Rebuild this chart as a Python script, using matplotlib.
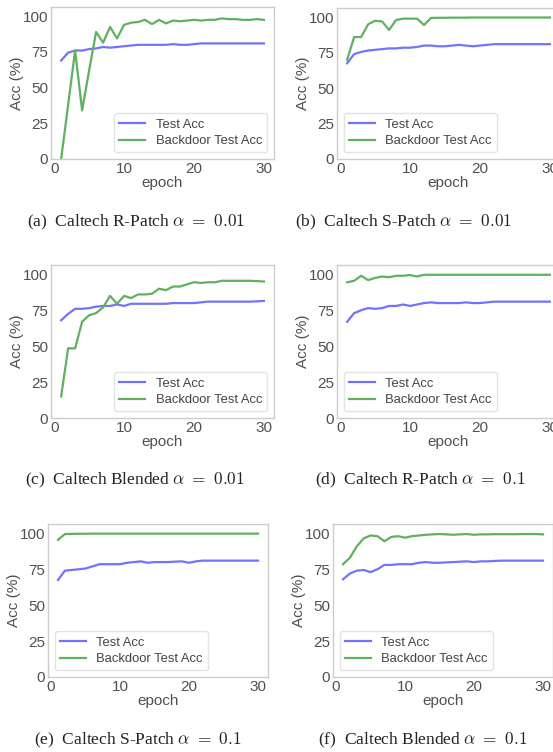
import matplotlib
matplotlib.use("Agg")
import matplotlib.pyplot as plt
import numpy as np

# ---- Data -----------------------------------------------------------------
epochs = np.arange(1, 31)

test_a = [69, 74.5, 76, 76, 77, 77.5, 78.5, 78, 78.5, 79, 79.5, 80, 80, 80, 80,
          80, 80.5, 80, 80, 80.5, 81, 81, 81, 81, 81, 81, 81, 81, 81, 81]
bd_a = [0, 38, 76, 34, 62, 89, 81.5, 92.5, 84.5, 94, 95.5, 96, 97.5, 94.5, 97.5,
        95, 97, 96.5, 97, 97.5, 97, 97.5, 97.5, 98.5, 98, 98, 97.5, 97.5, 98, 97.5]

test_b = [67.5, 74, 75.5, 76.5, 77, 77.5, 78, 78, 78.5, 78.5, 79, 80, 80, 79.5, 79.5,
          80, 80.5, 80, 79.5, 80, 80.5, 81, 81, 81, 81, 81, 81, 81, 81, 81]
bd_b = [70, 86, 86, 95, 97.5, 97, 91, 98, 99, 99, 99, 94.5, 99.5, 99.6, 99.6,
        99.7, 99.7, 99.7, 99.8, 99.8, 99.8, 99.8, 99.8, 99.8, 99.8, 99.8, 99.8, 99.8, 99.8, 99.8]

test_c = [68, 72.5, 76, 76, 76.5, 77.5, 78, 78, 79, 78, 79.5, 79.5, 79.5, 79.5, 79.5,
          79.5, 80, 80, 80, 80, 80.5, 81, 81, 81, 81, 81, 81, 81, 81.2, 81.5]
bd_c = [15, 48.5, 48.5, 67, 71.5, 73, 77, 85, 79.5, 85, 83.5, 86, 86, 86.5, 90,
        89, 91.5, 91.5, 93, 94.5, 94, 94.5, 94.5, 95.5, 95.5, 95.5, 95.5, 95.5, 95.3, 95]

test_d = [67, 73, 75, 76.5, 76, 76.5, 78, 78, 79, 78, 79, 80, 80.5, 80, 80,
          80, 80, 80.5, 80, 80, 80.5, 81, 81, 81, 81, 81, 81, 81, 81, 81]
bd_d = [94.5, 95.5, 99, 96, 97.5, 98.5, 98, 99, 99, 99.5, 98.5, 99.7, 99.7, 99.7, 99.7,
        99.7, 99.7, 99.7, 99.7, 99.7, 99.7, 99.7, 99.7, 99.7, 99.7, 99.7, 99.7, 99.7, 99.7, 99.7]

test_e = [67.5, 74, 74.5, 75, 75.5, 77, 78.5, 78.5, 78.5, 78.5, 79.5, 80, 80.5, 79.5, 80,
          80, 80, 80.3, 80.5, 79.5, 80.5, 81, 81, 81, 81, 81, 81, 81, 81, 81]
bd_e = [95.5, 99.5, 99.6, 99.7, 99.7, 99.8, 99.8, 99.8, 99.8, 99.8, 99.8, 99.8, 99.8, 99.8, 99.8,
        99.8, 99.8, 99.8, 99.8, 99.8, 99.8, 99.8, 99.8, 99.8, 99.8, 99.8, 99.8, 99.8, 99.8, 99.8]

test_f = [68, 72, 74, 74.5, 73, 75, 78, 78, 78.5, 78.5, 78.5, 79.5, 80, 79.5, 79.5,
          79.8, 80, 80.3, 80.5, 80, 80.5, 80.5, 80.8, 81, 81, 81, 81, 81, 81, 81]
bd_f = [78.5, 83, 91, 96.5, 98.5, 98, 94.5, 97.5, 98, 97, 98, 98.5, 99, 99.3, 99.5,
        99.3, 99, 99.3, 99.5, 99, 99.3, 99.3, 99.4, 99.4, 99.4, 99.4, 99.5, 99.5, 99.5, 99.3]

captions = ["(a)  Caltech R-Patch $\\alpha\\ =\\ 0.01$",
            "(b)  Caltech S-Patch $\\alpha\\ =\\ 0.01$",
            "(c)  Caltech Blended $\\alpha\\ =\\ 0.01$",
            "(d)  Caltech R-Patch $\\alpha\\ =\\ 0.1$",
            "(e)  Caltech S-Patch $\\alpha\\ =\\ 0.1$",
            "(f)  Caltech Blended $\\alpha\\ =\\ 0.1$"]

# ---- Layout (pixel boxes: left, top, right, bottom) -----------------------
W, H = 553, 752
BOXES = [(51, 7, 274, 159), (337, 8, 560, 159),
         (51, 265, 274, 418), (337, 265, 560, 418),
         (48, 524, 268, 677), (333, 524, 553, 677)]
LEG_LOC = ["lower right", "lower left", "lower right",
           "lower left", "lower left", "lower left"]
CAP_POS = [(136, 222), (404, 222), (135, 480), (420, 480), (138, 740), (423, 740)]

plt.rcParams["mathtext.fontset"] = "cm"
plt.rcParams["font.family"] = ["Liberation Sans", "DejaVu Sans"]

fig = plt.figure(figsize=(W / 100, H / 100), dpi=100)

series = [(test_a, bd_a), (test_b, bd_b), (test_c, bd_c),
          (test_d, bd_d), (test_e, bd_e), (test_f, bd_f)]

GRAY = "#505050"
for i, ((test, bd), (l, t, r, b)) in enumerate(zip(series, BOXES)):
    ax = fig.add_axes([l / W, 1 - b / H, (r - l) / W, (b - t) / H])
    ax.plot(epochs, test, color="#7272ff", lw=1.6, label="Test Acc")
    ax.plot(epochs, bd, color="#5fb15f", lw=1.6, label="Backdoor Test Acc")
    ax.set_ylim(0, 106.5)
    ax.set_yticks([0, 25, 50, 75, 100])
    ax.set_xticks([0, 10, 20, 30])
    for s in ax.spines.values():
        s.set_color("#cccccc")
        s.set_linewidth(1.0)
    ax.tick_params(length=0, pad=2, labelsize=11, labelcolor=GRAY)
    ax.set_xlabel("epoch", fontsize=11, color=GRAY, labelpad=0)
    ax.set_ylabel("Acc (%)", fontsize=11, color=GRAY, labelpad=-1)
    leg = ax.legend(loc=LEG_LOC[i], fontsize=9.4, frameon=True, labelspacing=0.35,
                    borderpad=0.4)
    leg.get_frame().set_edgecolor("#dddddd")
    for txt in leg.get_texts():
        txt.set_color("#444444")

for cap, (cx, cy) in zip(captions, CAP_POS):
    fig.text(cx / W, 1 - cy / H, cap, ha="center", va="center", fontsize=12.5,
             family=["Liberation Serif", "DejaVu Serif"], color="#222222")

fig.savefig("out.png", dpi=100)
